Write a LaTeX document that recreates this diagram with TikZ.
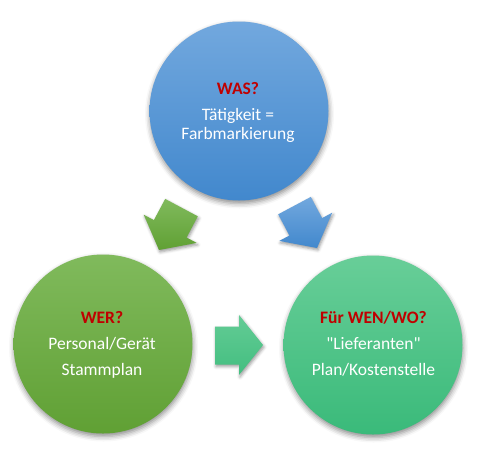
\documentclass[tikz,border=0pt]{standalone}
\usepackage{fontspec}
\setmainfont{Carlito}[Ligatures=TeXOff]
\usetikzlibrary{shadows.blur}
\definecolor{bluetop}{RGB}{114,168,222}
\definecolor{bluebot}{RGB}{66,136,205}
\definecolor{greentop}{RGB}{128,186,92}
\definecolor{greenbot}{RGB}{96,160,52}
\definecolor{tealtop}{RGB}{104,206,152}
\definecolor{tealbot}{RGB}{58,186,122}
\definecolor{titlered}{RGB}{192,0,0}
\begin{document}
\begin{tikzpicture}[x=1pt,y=-1pt,
  bubble/.style={circle, minimum size=179pt, inner sep=0pt, draw=none,
    blur shadow={shadow xshift=0.5pt, shadow yshift=-3pt, shadow blur radius=5pt, shadow opacity=45}},
  blockarrow/.style={draw=none,
    blur shadow={shadow xshift=1pt, shadow yshift=-2pt, shadow blur radius=3pt, shadow opacity=40}},
  titletext/.style={anchor=base, inner sep=0pt, text=titlered, font=\fontsize{17.5}{20}\selectfont\bfseries},
  bodytext/.style={anchor=base, inner sep=0pt, text=white, font=\fontsize{17.5}{20}\selectfont}]
\useasboundingbox (0,0) rectangle (478,456);
% circles
\node[bubble, top color=bluetop, bottom color=bluebot] (was) at (239,111) {};
\node[bubble, top color=greentop, bottom color=greenbot] (wer) at (103,344) {};
\node[bubble, top color=tealtop, bottom color=tealbot] (wen) at (373,345) {};
% block arrows
\path[blockarrow, top color=greentop, bottom color=greenbot]
  (197.8,216.3) -- (186.6,237.5) -- (196.7,242.9) -- (159,250) -- (143.75,214.7) -- (153.9,220.1) -- (165.2,198.9) -- cycle;
\path[blockarrow, top color=bluetop, bottom color=bluebot]
  (310.8,196.9) -- (322.1,218.1) -- (332.2,212.7) -- (317,248) -- (279.3,240.9) -- (289.4,235.5) -- (278.2,214.3) -- cycle;
\path[blockarrow, top color=tealtop!90!tealbot, bottom color=tealbot!80!tealtop]
  (215,326.5) -- (239,326.5) -- (239,315) -- (263,345) -- (239,375) -- (239,364.5) -- (215,364.5) -- cycle;
% texts
\node[titletext] (wast) at (238,94) {WAS?};
\node[bodytext] (wasa) at (238,120) {Tätigkeit =};
\node[bodytext] (wasb) at (238,139.5) {Farbmarkierung};
\node[titletext] (wert) at (102,323) {WER?};
\node[bodytext] (wera) at (102,349) {Personal/Gerät};
\node[bodytext] (werb) at (102,375) {Stammplan};
\node[titletext] (went) at (373.5,323) {Für WEN/WO?};
\node[bodytext] (wena) at (373.5,349) {"Lieferanten"};
\node[bodytext] (wenb) at (373.5,375) {Plan/Kostenstelle};
\end{tikzpicture}
\end{document}
